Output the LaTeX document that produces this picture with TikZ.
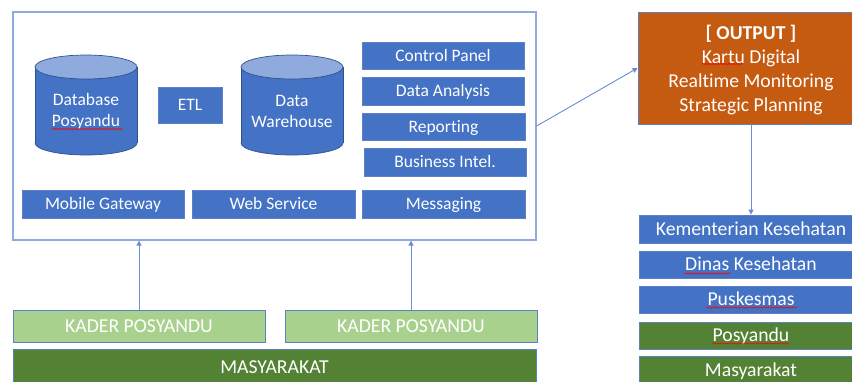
\documentclass[tikz,border=0pt]{standalone}
\usepackage{fontspec}
\setmainfont{Carlito}[Ligatures=NoCommon]
\usetikzlibrary{arrows.meta,decorations.pathmorphing}

\definecolor{boxblue}{HTML}{4472C4}
\definecolor{lightblue}{HTML}{8FAADC}
\definecolor{edgeblue}{HTML}{5E80C4}
\definecolor{darkedge}{HTML}{2F528F}
\definecolor{lightgreen}{HTML}{A9D18E}
\definecolor{darkgreen}{HTML}{548235}
\definecolor{rust}{HTML}{C55A11}
\definecolor{linkblue}{HTML}{6A8CD0}

\tikzset{
  fs/.style={font=\fontsize{#1}{23}\selectfont},
  tile/.style={draw=edgeblue, line width=0.8pt, text=white, inner sep=0pt, anchor=center},
  smalltxt/.style={fs=17.5, text height=14pt, text depth=3pt},
  bigtxt/.style={fs=19.7, text height=16pt, text depth=3.3pt},
  bluetile/.style={tile, fill=boxblue, smalltxt},
  rtile/.style={tile, fill=boxblue, bigtxt, minimum width=224pt, minimum height=28pt},
  gtile/.style={tile, fill=darkgreen, bigtxt, minimum width=224pt, minimum height=28pt},
  link/.style={draw=linkblue, line width=0.9pt, -{Triangle[length=5pt,width=5pt]}},
  spell/.style={draw=red, line width=0.5pt, decorate, decoration={snake, amplitude=0.7pt, segment length=2.6pt}},
  dbbody/.style={fill=boxblue, draw=darkedge, line width=0.7pt},
  dbtop/.style={fill=lightblue, draw=darkedge, line width=0.7pt},
  dblabel/.style={text=white, align=center, inner sep=0pt, font=\fontsize{17.5}{21}\selectfont},
}

\begin{document}
\begin{tikzpicture}[x=1pt, y=-1pt]
\useasboundingbox (0,0) rectangle (852,381);

% platform frame
\node[draw=lightblue, line width=1.2pt, minimum width=523pt, minimum height=228pt, inner sep=0pt] (platform) at (274.5,126) {};

% database cylinders
\foreach \cx in {86, 292} {
  \fill[boxblue] (\cx-51,67) rectangle (\cx+51,143);
  \begin{scope}
    \clip (\cx-60,143) rectangle (\cx+60,165);
    \draw[dbbody] (\cx,143) ellipse [x radius=51, y radius=12];
  \end{scope}
  \draw[darkedge, line width=0.7pt] (\cx-51,67) -- (\cx-51,143);
  \draw[darkedge, line width=0.7pt] (\cx+51,67) -- (\cx+51,143);
  \draw[dbtop] (\cx,67) ellipse [x radius=51, y radius=12];
}
\node[dblabel] (dbposlbl) at (86,111.5) {Database\\Posyandu};
\node[dblabel] (dwhlbl) at (292,111.5) {Data\\Warehouse};

\node[bluetile, minimum width=64pt, minimum height=36pt] (etl) at (190,105) {ETL};

% analytic services
\node[bluetile, minimum width=162pt, minimum height=27pt] (cp) at (443,55.5) {Control Panel};
\node[bluetile, minimum width=162pt, minimum height=28pt] (da) at (443,91) {Data Analysis};
\node[bluetile, minimum width=163pt, minimum height=27pt] (rep) at (443.5,126.5) {Reporting};
\node[bluetile, minimum width=162pt, minimum height=28pt] (bi) at (445,162) {Business Intel.};

% gateway row
\node[bluetile, minimum width=162pt, minimum height=28pt] (mg) at (103,204) {Mobile Gateway};
\node[bluetile, minimum width=163pt, minimum height=28pt] (ws) at (273.5,204) {Web Service};
\node[bluetile, minimum width=163pt, minimum height=28pt] (msg) at (443.5,204) {Messaging};

% community layer
\node[tile, fill=lightgreen, bigtxt, minimum width=252pt, minimum height=32pt] (kader1) at (139,326) {KADER POSYANDU};
\node[tile, fill=lightgreen, bigtxt, minimum width=252pt, minimum height=32pt] (kader2) at (411,326) {KADER POSYANDU};
\node[tile, fill=darkgreen, bigtxt, minimum width=523pt, minimum height=36pt] (masy) at (274.5,367) {MASYARAKAT};

% output
\node[tile, fill=rust, minimum width=226pt, minimum height=112pt] (output) at (751,68) {};
\node[text=white, align=center, inner sep=0pt, font=\fontsize{19.7}{24}\selectfont] (outtext) at (751,70)
  {\textbf{[ OUTPUT ]}\\Kartu Digital\\Realtime Monitoring\\Strategic Planning};

% stakeholders
\node[rtile] (kemenkes) at (751,229) {Kementerian Kesehatan};
\node[rtile, minimum height=27pt] (dinkes) at (751,264.5) {Dinas Kesehatan};
\node[rtile, minimum height=27pt] (pkm) at (751,299.5) {Puskesmas};
\node[gtile, minimum height=27pt] (posy) at (751,335.5) {Posyandu};
\node[gtile] (warga) at (751,370) {Masyarakat};

% connectors
\draw[link] (kader1.north) -- (kader1.north |- platform.south);
\draw[link] (kader2.north) -- (kader2.north |- platform.south);
\draw[link] (platform.east) -- (output.west);
\draw[link] (output.south) -- (kemenkes.north);

% spelling marks
\draw[spell] (52,129) -- (123,129);
\draw[spell] (702,64) -- (743,64);
\draw[spell] (684,273.5) -- (730,273.5);
\draw[spell] (706,307.5) -- (797,307.5);
\draw[spell] (712,343.5) -- (789,343.5);
\end{tikzpicture}
\end{document}
